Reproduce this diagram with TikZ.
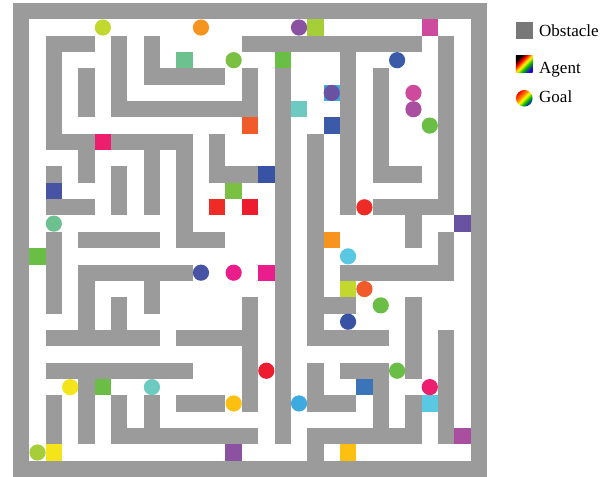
\documentclass[tikz,border=0pt]{standalone}
\usepackage{tikz}
\usepackage{fontspec}
\setmainfont{Liberation Serif}

\definecolor{wallgray}{RGB}{155,155,155}
\definecolor{keygray}{RGB}{120,120,120}
\definecolor{pinkred}{HTML}{ED1E6E}
\definecolor{limeA}{HTML}{A6CE39}
\definecolor{limeB}{HTML}{C2D82E}
\definecolor{orangeA}{HTML}{F7941D}
\definecolor{purpleA}{HTML}{8A52A0}
\definecolor{mint}{HTML}{6CC18E}
\definecolor{greenA}{HTML}{7AC143}
\definecolor{greenB}{HTML}{6ABD45}
\definecolor{tealA}{HTML}{6DCAC0}
\definecolor{vermil}{HTML}{F15A29}
\definecolor{blueA}{HTML}{3B5BA9}
\definecolor{indigoA}{HTML}{4753A3}
\definecolor{blueB}{HTML}{3953A4}
\definecolor{redA}{HTML}{EE2B24}
\definecolor{redB}{HTML}{ED1C2E}
\definecolor{magentaA}{HTML}{E91E8C}
\definecolor{orchid}{HTML}{CD4A9C}
\definecolor{purpleB}{HTML}{6952A2}
\definecolor{violetA}{HTML}{AA4FA0}
\definecolor{yellowA}{HTML}{F3E51A}
\definecolor{goldA}{HTML}{FDC010}
\definecolor{blueC}{HTML}{3C74BA}
\definecolor{cyanA}{HTML}{5BC8E3}
\definecolor{skyA}{HTML}{3DAAE0}

\pgfdeclarehorizontalshading{agentrainbow}{100bp}{color(0bp)=(black); color(25bp)=(black); color(37bp)=(red); color(50bp)=(yellow); color(62bp)=(green!70!black); color(75bp)=(blue!70!violet); color(100bp)=(blue!70!violet)}
\pgfdeclarehorizontalshading{goalrainbow}{100bp}{color(0bp)=(red); color(25bp)=(red); color(40bp)=(orange); color(50bp)=(yellow); color(62bp)=(green!70!black); color(75bp)=(blue); color(100bp)=(blue)}

\begin{document}
\begin{tikzpicture}[x=16.345pt, y=-16.345pt,
    keybox/.style={rectangle, minimum size=16.6pt, inner sep=0pt},
    keytext/.style={anchor=base west, inner sep=0pt, font=\fontsize{17}{20}\selectfont}]
    \useasboundingbox (-0.7953,-0.1835) rectangle (36.770,29);

    % outer frame
    \fill[wallgray] (0,0) rectangle (29,29);
    \fill[white] (1,1) rectangle (28,28);

    % inner walls, cells (col1,row1) to (col2,row2)
    \foreach \xa/\ya/\xb/\yb in {2/2/4/2, 14/2/24/2, 8/4/12/4, 6/6/14/6, 2/8/4/8, 6/8/10/8,
        12/10/14/10, 22/10/24/10, 2/12/4/12, 22/12/26/12, 4/14/8/14, 10/14/12/14,
        4/16/10/16, 20/16/26/16, 18/18/20/18, 2/20/8/20, 10/20/14/20, 18/20/22/20,
        2/22/10/22, 20/22/22/22, 10/24/12/24, 18/24/20/24, 6/26/14/26, 18/26/24/26,
        2/2/2/8, 2/10/2/10, 2/14/2/18, 2/24/2/26,
        4/4/4/6, 4/8/4/10, 4/16/4/19, 4/22/4/26,
        6/2/6/6, 6/10/6/12, 6/18/6/19, 6/24/6/26,
        8/2/8/4, 8/8/8/12, 8/16/8/18, 8/24/8/25,
        10/8/10/14, 12/8/12/10, 14/4/14/6, 14/18/14/24, 16/4/16/26,
        18/8/18/20, 18/22/18/24, 18/26/18/27,
        20/2/20/12, 22/4/22/10, 22/22/22/26,
        24/12/24/14, 24/18/24/22, 24/24/24/26,
        26/2/26/12, 26/14/26/16, 26/20/26/26}
        \fill[wallgray] (\xa,\ya) rectangle (\xb+1,\yb+1);

    % agents
    \foreach \px/\py/\tint in {5/8/pinkred, 18/1/limeA, 10/3/mint, 16/3/greenB, 17/6/tealA,
        14/7/vermil, 19/5/skyA, 19/7/blueA, 25/1/orchid, 2/11/indigoA, 15/10/blueB,
        13/11/greenA, 12/12/redA, 14/12/redB, 1/15/greenB, 19/14/orangeA, 15/16/magentaA,
        27/13/purpleB, 20/17/limeB, 5/23/greenB, 2/27/yellowA, 13/27/purpleA,
        21/23/blueC, 25/24/cyanA, 27/26/violetA, 20/27/goldA}
        \fill[\tint] (\px,\py) rectangle ++(1,1);

    % goals
    \foreach \px/\py/\tint in {5/1/limeB, 11/1/orangeA, 17/1/purpleA, 13/3/greenA, 23/3/blueA,
        19/5/purpleB, 24/5/orchid, 24/6/violetA, 25/7/greenB, 2/13/mint, 21/12/redA,
        11/16/indigoA, 13/16/magentaA, 20/15/cyanA, 21/17/vermil, 22/18/greenB,
        20/19/blueB, 3/23/yellowA, 8/23/tealA, 1/27/limeA, 15/22/redB, 13/24/goldA,
        17/24/skyA, 23/22/greenB, 25/23/pinkred}
        \fill[\tint] (\px+0.5,\py+0.5) circle (8.1pt);

    % legend
    \node[keybox, fill=keygray] (obstaclekey) at (31.28,1.68) {};
    \node[keytext] (obstaclelabel) at (32.18,2.06) {Obstacle};
    \node[keybox, shade, shading=agentrainbow, shading angle=-45] (agentkey) at (31.28,3.74) {};
    \node[keytext] (agentlabel) at (32.18,4.34) {Agent};
    \node[circle, minimum size=16.6pt, inner sep=0pt, shade, shading=goalrainbow, shading angle=-45] (goalkey) at (31.28,5.83) {};
    \node[keytext] (goallabel) at (32.18,6.10) {Goal};
\end{tikzpicture}
\end{document}
